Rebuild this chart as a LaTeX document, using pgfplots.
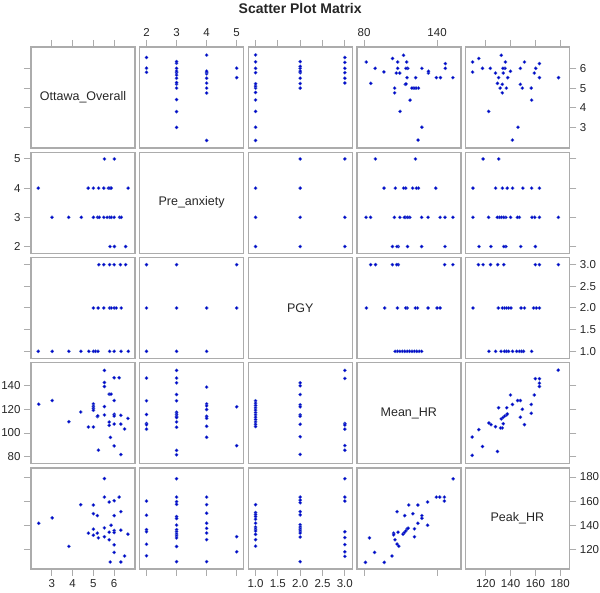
\documentclass[border=0pt]{standalone}
\usepackage{fontspec}
\setmainfont{Liberation Sans}
\usepackage{pgfplots}
\usepackage{pgfplotstable}
\pgfplotsset{compat=1.18}
\usepgfplotslibrary{groupplots}
\usetikzlibrary{calc}
\definecolor{mk}{RGB}{96,128,214}
\definecolor{mkd}{RGB}{80,112,204}
\definecolor{fr}{RGB}{172,172,172}

% a = column variable (x in lower triangle), b = row variable (y in lower triangle)
\pgfplotstableread{
a b
2.35 4
4.75 4
5.0 4
5.25 4
5.5 4
5.72 4
5.8 4
5.86 4
6.67 4
5.53 5
6.01 5
3.01 3
3.81 3
4.42 3
5.0 3
5.2 3
5.28 3
5.5 3
5.66 3
5.78 3
5.86 3
6.0 3
6.26 3
6.34 3
5.8 2
6.01 2
6.55 2
}\tOP
\pgfplotstableread{
a b
5.26 3
5.5 3
5.78 3
6.0 3
6.3 3
6.55 3
5.0 2
5.23 2
5.5 2
5.78 2
5.86 2
6.0 2
6.1 2
6.34 2
2.35 1
3.02 1
3.82 1
4.4 1
4.78 1
5.0 1
5.1 1
5.22 1
5.78 1
6.0 1
6.33 1
6.68 1
}\tOG
\pgfplotstableread{
a b
2 3
3 3
5 3
2 2
3 2
4 2
5 2
2 1
3 1
4 1
}\tPG
\pgfplotstableread{
a b
2.37 124.4
3.02 127.5
3.82 109.6
4.39 117.8
4.76 105.1
5.0 105.1
5.0 124.7
5.0 122.7
5.0 121.0
5.0 119.3
5.19 113.9
5.21 114.5
5.24 85.5
5.53 153.0
5.53 142.8
5.53 139.4
5.53 122.4
5.53 115.3
5.76 132.9
5.85 132.9
5.76 109.3
5.76 106.5
5.82 96.3
6.0 146.8
6.24 146.8
6.0 127.5
6.0 115.9
6.0 114.4
6.0 107.6
6.0 89.1
6.32 115.0
6.32 107.6
6.32 81.8
6.5 103.4
6.66 112.4
}\tOM
\pgfplotstableread{
a b
2 146.5
2 127.3
2 115.7
2 108.1
2 107.0
2 103.3
3 153.0
3 146.5
3 142.5
3 132.6
3 127.3
3 117.6
3 115.9
3 114.2
3 113.1
3 109.4
3 104.9
3 85.3
3 81.6
4 138.9
4 124.7
4 123.0
4 119.9
4 114.2
4 112.5
4 105.7
4 96.4
5 122.2
5 89.3
}\tPM
\pgfplotstableread{
a b
1 127.3
1 125.3
1 123.3
1 121.3
1 119.4
1 117.3
1 115.4
1 113.4
1 111.4
1 109.4
1 107.4
1 105.5
2 142.5
2 140.0
2 132.6
2 123.9
2 122.2
2 115.4
2 114.2
2 107.4
2 96.9
2 81.9
3 153.0
3 146.2
3 108.1
3 106.8
3 103.3
3 89.4
3 85.4
}\tGM
\pgfplotstableread{
a b
2.37 141.5
3.02 146.0
3.82 122.3
4.39 157.0
4.76 133.3
5.0 156.7
5.0 149.5
5.0 136.6
5.0 131.6
5.19 147.9
5.19 133.3
5.24 129.4
5.53 178.7
5.53 163.3
5.53 137.7
5.53 130.3
5.76 159.2
5.76 134.1
5.76 127.8
5.85 139.9
6.0 160.3
6.0 147.9
6.0 135.5
6.0 133.8
6.0 123.6
6.0 117.3
5.81 109.3
6.24 163.3
6.32 151.2
6.32 135.8
6.32 109.3
6.5 114.3
6.66 132.5
}\tOK
\pgfplotstableread{
a b
2 160.0
2 148.2
2 136.2
2 134.5
2 124.1
2 114.5
3 178.6
3 163.3
3 159.5
3 157.3
3 147.1
3 145.5
3 140.0
3 136.2
3 134.5
3 132.6
3 131.0
3 129.3
3 122.2
3 109.6
4 163.3
4 157.0
4 149.9
4 141.6
4 137.3
4 133.4
4 127.9
4 109.6
5 130.4
5 117.8
}\tPK
\pgfplotstableread{
a b
1 157.0
1 150.4
1 148.8
1 147.1
1 144.9
1 141.6
1 138.4
1 136.7
1 135.1
1 132.3
1 127.9
1 122.5
2 163.3
2 160.8
2 158.6
2 151.2
2 148.5
2 140.3
2 138.4
2 136.7
2 135.1
2 133.4
2 130.1
2 109.6
3 178.6
3 163.3
3 160.0
3 134.5
3 129.6
3 123.8
3 117.8
3 114.0
}\tGK
\pgfplotstableread{
a b
81.1 109.0
84.4 129.4
88.6 117.3
96.6 109.0
102.9 114.3
104.3 133.3
104.3 131.9
107.9 134.1
105.4 127.8
107.1 124.2
108.5 122.5
107.1 151.2
112.0 132.5
113.1 133.8
114.3 135.2
115.4 136.9
116.2 137.4
113.4 147.9
116.7 156.7
120.1 149.5
121.4 136.9
121.4 130.3
124.2 156.7
124.2 141.5
127.5 147.9
127.5 145.7
132.2 159.2
132.2 139.9
139.4 163.3
142.2 163.3
146.0 163.3
146.0 160.0
153.2 178.5
}\tMK

\pgfplotsset{
  xO/.style={xmin=2,xmax=7,xtick={3,4,5,6}},
  yO/.style={ymin=1.97,ymax=7.08,ytick={3,4,5,6}},
  xP/.style={xmin=1.77,xmax=5.23,xtick={2,3,4,5}},
  yP/.style={ymin=1.77,ymax=5.23,ytick={2,3,4,5}},
  xG/.style={xmin=0.835,xmax=3.165,xtick={1,1.5,2,2.5,3},xticklabels={1.0,1.5,2.0,2.5,3.0}},
  yG/.style={ymin=0.835,ymax=3.165,ytick={1,1.5,2,2.5,3},yticklabels={1.0,1.5,2.0,2.5,3.0}},
  xM/.style={xmin=74,xmax=159.5,xtick={80,140}},
  yM/.style={ymin=74,ymax=159.5,ytick={80,100,120,140}},
  xK/.style={xmin=103.5,xmax=187.5,xtick={120,140,160,180}},
  yK/.style={ymin=103.5,ymax=187.5,ytick={120,140,160,180}},
  xT/.style={xtick pos=right,xticklabel pos=right},
  xTn/.style={xtick pos=right,xticklabels={}},
  xB/.style={xtick pos=left,xticklabel pos=left},
  xBn/.style={xtick pos=left,xticklabels={}},
  xN/.style={xmajorticks=false},
  yL/.style={ytick pos=left,yticklabel pos=left},
  yLn/.style={ytick pos=left,yticklabels={}},
  yR/.style={ytick pos=right,yticklabel pos=right},
  yRn/.style={ytick pos=right,yticklabels={}},
  yN/.style={ymajorticks=false},
}
\tikzset{diag/.style={font=\fontsize{12.5}{15}\selectfont, text=black!85}}

\begin{document}
\begin{tikzpicture}
\begin{groupplot}[
  group style={group size=5 by 5, horizontal sep=4.6pt, vertical sep=4.25pt},
  width=104pt, height=101pt, scale only axis,
  axis line style={draw=fr, line width=1.4pt},
  tick align=outside, major tick length=7pt,
  tick style={draw=fr, line width=1pt},
  /pgf/number format/assume math mode=true,
  tick label style={font=\fontsize{11.5}{13}\selectfont, text=black!85},
  minor tick num=0,
  clip=false,
  every axis plot/.append style={only marks, mark=diamond*, mark size=1.7pt,
     mark options={draw=mkd, fill=mk, line width=0.25pt}},
]
% ---- row 1 : Ottawa_Overall
\nextgroupplot[xO,yO,xTn,yLn]
\node[diag] at (rel axis cs:0.5,0.5) {Ottawa\_Overall};
\nextgroupplot[xP,yO,xT,yN]
\addplot table[x=b,y=a]{\tOP};
\nextgroupplot[xG,yO,xTn,yN]
\addplot table[x=b,y=a]{\tOG};
\nextgroupplot[xM,yO,xT,yN]
\addplot table[x=b,y=a]{\tOM};
\nextgroupplot[xK,yO,xTn,yR]
\addplot table[x=b,y=a]{\tOK};
% ---- row 2 : Pre_anxiety
\nextgroupplot[xO,yP,xN,yL]
\addplot table[x=a,y=b]{\tOP};
\nextgroupplot[xP,yP,xN,yN]
\node[diag] at (rel axis cs:0.5,0.5) {Pre\_anxiety};
\nextgroupplot[xG,yP,xN,yN]
\addplot table[x=b,y=a]{\tPG};
\nextgroupplot[xM,yP,xN,yN]
\addplot table[x=b,y=a]{\tPM};
\nextgroupplot[xK,yP,xN,yRn]
\addplot table[x=b,y=a]{\tPK};
% ---- row 3 : PGY
\nextgroupplot[xO,yG,xN,yLn]
\addplot table[x=a,y=b]{\tOG};
\nextgroupplot[xP,yG,xN,yN]
\addplot table[x=a,y=b]{\tPG};
\nextgroupplot[xG,yG,xN,yN]
\node[diag] at (rel axis cs:0.5,0.5) {PGY};
\nextgroupplot[xM,yG,xN,yN]
\addplot table[x=b,y=a]{\tGM};
\nextgroupplot[xK,yG,xN,yR]
\addplot table[x=b,y=a]{\tGK};
% ---- row 4 : Mean_HR
\nextgroupplot[xO,yM,xN,yL]
\addplot table[x=a,y=b]{\tOM};
\nextgroupplot[xP,yM,xN,yN]
\addplot table[x=a,y=b]{\tPM};
\nextgroupplot[xG,yM,xN,yN]
\addplot table[x=a,y=b]{\tGM};
\nextgroupplot[xM,yM,xN,yN]
\node[diag] at (rel axis cs:0.5,0.5) {Mean\_HR};
\nextgroupplot[xK,yM,xN,yRn]
\addplot table[x=b,y=a]{\tMK};
% ---- row 5 : Peak_HR
\nextgroupplot[xO,yK,xB,yLn]
\addplot table[x=a,y=b]{\tOK};
\nextgroupplot[xP,yK,xBn,yN]
\addplot table[x=a,y=b]{\tPK};
\nextgroupplot[xG,yK,xB,yN]
\addplot table[x=a,y=b]{\tGK};
\nextgroupplot[xM,yK,xBn,yN]
\addplot table[x=a,y=b]{\tMK};
\nextgroupplot[xK,yK,xB,yR]
\node[diag] at (rel axis cs:0.5,0.5) {Peak\_HR};
\end{groupplot}
\node[font=\bfseries\fontsize{14}{16}\selectfont, text=black!85] at ($(group c3r1.north)+(0,38pt)$) {Scatter Plot Matrix};
\pgfresetboundingbox
\path[use as bounding box] ($(group c1r1.north west)+(-31pt,47pt)$) rectangle ($(group c1r1.north west)+(569pt,-546pt)$);
\end{tikzpicture}
\end{document}
